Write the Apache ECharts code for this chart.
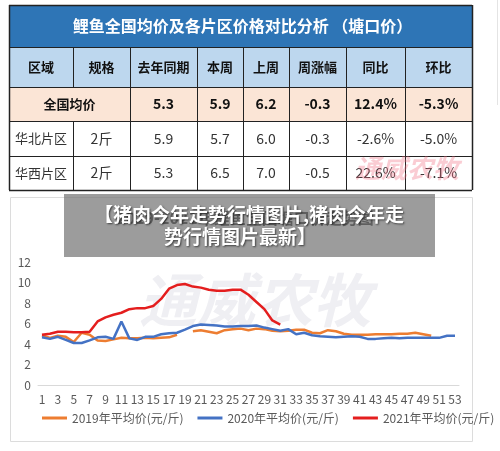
<!DOCTYPE html>
<html><head><meta charset="utf-8">
<script src="https://cdn.jsdelivr.net/npm/echarts@6/dist/echarts.min.js"></script>
<style>html,body{margin:0;padding:0;background:#fff}#c{width:500px;height:451px}</style>
</head><body><div id="c"></div>
<script>
// ---- table data ----
const tableTitle = '鲤鱼全国均价及各片区价格对比分析 （塘口价）';
const headers = ['区域','规格','去年同期','本周','上周','周涨幅','同比','环比'];
const regionNames = ['全国均价','华北片区','华西片区'];
const specs = ['', '2斤', '2斤'];
const lastYear = [5.3, 5.9, 5.3];
const thisWeek = [5.9, 5.7, 6.5];
const lastWeek = [6.2, 6.0, 7.0];
const weekChange = [-0.3, -0.3, -0.5];
const yoy = [12.4, -2.6, 22.6];
const mom = [-5.3, -5.0, -7.1];

// ---- chart data ----
const weeks = Array.from({length:53}, (_, i) => String(i + 1));
const legendNames = ['2019年平均价(元/斤)', '2020年平均价(元/斤)', '2021年平均价(元/斤)'];
const yTicks = [0, 2, 4, 6, 8, 10, 12];
const price2019 = [4.85,4.6,4.8,4.7,4.2,5.1,4.9,4.35,4.3,4.45,4.6,4.55,4.55,4.6,4.55,4.6,4.65,4.9,null,5.25,
  5.35,5.2,5.05,5.35,5.45,5.5,5.35,5.5,5.45,5.3,5.25,5.3,5.4,5.4,5.1,5.05,5.35,5.25,5.0,4.9,
  4.9,4.9,4.95,4.95,4.95,5.0,5.0,5.1,4.95,4.8,null,null,null];
const price2020 = [4.65,4.5,4.7,4.4,4.1,4.1,4.35,4.65,4.7,4.5,6.2,4.55,4.4,4.7,4.7,4.95,5.05,5.1,5.4,5.75,
  5.9,5.85,5.8,5.7,5.7,5.75,5.75,5.8,5.6,5.45,5.3,5.45,4.95,5.1,4.85,4.75,4.7,4.65,4.7,4.75,
  4.7,4.5,4.5,4.55,4.6,4.55,4.6,4.6,4.6,4.6,4.6,4.8,4.8];
const price2021 = [4.9,5.0,5.2,5.2,5.15,5.15,5.2,6.2,6.6,6.85,7.05,7.4,7.5,7.5,7.7,8.4,9.4,9.75,9.85,9.6,
  9.5,9.3,9.2,9.2,9.3,9.3,8.8,8.1,7.4,6.3,5.9];

const overlayLines = ['【猪肉今年走势行情图片,猪肉今年走', '势行情图片最新】'];
const chartTitle = '2019-2021年鲤鱼全国塘口价走势图';

// ---- layout ----
const FONT = '"Noto Sans CJK SC","Noto Sans",sans-serif';
const colX = [9, 73, 130, 197, 243, 289, 346, 405, 472];
const rowY = [5, 47, 87, 121, 156, 190];
const g = [];

// table fills
g.push({type:'rect', z:1, shape:{x:colX[0], y:rowY[0], width:colX[8]-colX[0], height:rowY[1]-rowY[0]}, style:{fill:'#2E75B6'}});
g.push({type:'rect', z:1, shape:{x:colX[0], y:rowY[1], width:colX[8]-colX[0], height:rowY[2]-rowY[1]}, style:{fill:'#BDD7EE'}});
g.push({type:'rect', z:1, shape:{x:colX[0], y:rowY[2], width:colX[8]-colX[0], height:rowY[3]-rowY[2]}, style:{fill:'#FBE5D6'}});
// borders
const bc = '#222';
for (let r = 0; r < rowY.length; r++) {
  g.push({type:'line', z:3, shape:{x1:colX[0], y1:rowY[r]+0.5, x2:colX[8], y2:rowY[r]+0.5}, style:{stroke:bc, lineWidth:(r===0||r===rowY.length-1)?1.5:1}});
}
for (let c = 0; c < colX.length; c++) {
  const outer = (c===0||c===colX.length-1);
  if (outer) {
    g.push({type:'line', z:3, shape:{x1:colX[c]+0.5, y1:rowY[0], x2:colX[c]+0.5, y2:rowY[5]}, style:{stroke:bc, lineWidth:1.5}});
  } else {
    const y1 = (c === 1) ? rowY[3] : rowY[1];
    g.push({type:'line', z:3, shape:{x1:colX[c]+0.5, y1:(c===1?rowY[1]:y1), x2:colX[c]+0.5, y2:rowY[2]}, style:{stroke:bc, lineWidth:1}});
    g.push({type:'line', z:3, shape:{x1:colX[c]+0.5, y1:(c===1?rowY[3]:rowY[2]), x2:colX[c]+0.5, y2:rowY[5]}, style:{stroke:bc, lineWidth:1}});
  }
}
function txt(x, y, s, opt) {
  g.push({type:'text', z:4, x:x, y:y, style:Object.assign({text:s, font:'14px ' + FONT, fill:'#111', textAlign:'center', textVerticalAlign:'middle'}, opt||{})});
}
txt((colX[0]+colX[8])/2 + 2, (rowY[0]+rowY[1])/2, tableTitle, {font:'bold 16px ' + FONT, fill:'#fff'});
headers.forEach((h, i) => txt((colX[i]+colX[i+1])/2, (rowY[1]+rowY[2])/2, h, {font:'bold 13px ' + FONT}));
const fmt1 = v => v.toFixed(1);
const fmtP = v => v.toFixed(1) + '%';
regionNames.forEach((name, r) => {
  const cy = (rowY[r+2] + rowY[r+3]) / 2;
  const bold = r === 0;
  const f = (bold ? 'bold ' : '') + '14px ' + FONT;
  if (r === 0) txt((colX[0]+colX[2])/2, cy, name, {font:'bold 13px ' + FONT});
  else { txt((colX[0]+colX[1])/2, cy, name, {font:'13px ' + FONT, fill:'#333'}); txt((colX[1]+colX[2])/2, cy, specs[r], {font:'14px ' + FONT, fill:'#333'}); }
  const vals = [fmt1(lastYear[r]), fmt1(thisWeek[r]), fmt1(lastWeek[r]), fmt1(weekChange[r]), fmtP(yoy[r]), fmtP(mom[r])];
  vals.forEach((v, k) => txt((colX[k+2]+colX[k+3])/2, cy, v, {font:f, fill: bold ? '#111' : '#333'}));
});
// pink watermark in table
g.push({type:'text', z:5, x:407, y:168, style:{text:'通威农牧', font:'bold italic 26px ' + FONT, fill:'rgba(240,110,130,0.35)', textAlign:'center', textVerticalAlign:'middle'}});
// right faint line
g.push({type:'line', z:1, shape:{x1:497.5, y1:0, x2:497.5, y2:105}, style:{stroke:'#e4e4e4', lineWidth:1}});

// chart box
g.push({type:'rect', z:0, shape:{x:10.5, y:197.5, width:462, height:244}, style:{fill:'#fff', stroke:'#dcdcdc', lineWidth:1}});
// big watermark
g.push({type:'text', z:1, x:255, y:300, style:{text:'通威农牧', font:'bold italic 58px ' + FONT, fill:'#efeff3', textAlign:'center', textVerticalAlign:'middle'}});
// chart title (under overlay)
g.push({type:'text', z:1, x:245, y:218, style:{text:chartTitle, font:'bold 16px ' + FONT, fill:'#222', textAlign:'center', textVerticalAlign:'middle'}});
// overlay
g.push({type:'rect', z:100, shape:{x:64, y:194, width:371, height:63}, style:{fill:'rgba(118,118,118,0.72)'}});
g.push({type:'text', z:101, x:249, y:215, style:{text:overlayLines[0], font:'bold 19px ' + FONT, fill:'#fff', textAlign:'center', textVerticalAlign:'middle', textShadowColor:'rgba(0,0,0,0.6)', textShadowBlur:2, textShadowOffsetX:1, textShadowOffsetY:1}});
g.push({type:'text', z:101, x:240, y:237, style:{text:overlayLines[1], font:'bold 19px ' + FONT, fill:'#fff', textAlign:'center', textVerticalAlign:'middle', textShadowColor:'rgba(0,0,0,0.6)', textShadowBlur:2, textShadowOffsetX:1, textShadowOffsetY:1}});

const chart = echarts.init(document.getElementById('c'), null, {renderer:'canvas'});
const colors = ['#ED7D31', '#4472C4', '#E41E1E'];
const datasets = [price2019, price2020, price2021];
chart.setOption({
  backgroundColor:'#fff',
  animation:false,
  color: colors,
  textStyle:{fontFamily:FONT},
  graphic: g,
  grid:{left:38, right:41, top:262, bottom:66},
  legend:{
    data: legendNames, left:37, top:407, itemGap:14, itemWidth:25, itemHeight:3, icon:'rect',
    textStyle:{fontSize:12, color:'#595959', fontFamily:FONT}
  },
  xAxis:{
    type:'category', data:weeks, boundaryGap:true,
    axisLine:{lineStyle:{color:'#d9d9d9'}}, axisTick:{show:false},
    axisLabel:{interval:1, color:'#595959', fontSize:12, margin:8, fontFamily:FONT}
  },
  yAxis:{
    type:'value', min:yTicks[0], max:yTicks[yTicks.length-1], interval:2,
    axisLine:{show:false}, axisTick:{show:false}, splitLine:{show:false},
    axisLabel:{color:'#595959', fontSize:12, margin:7, fontFamily:FONT}
  },
  series: legendNames.map((n, i) => ({
    name:n, type:'line', data:datasets[i], showSymbol:false, symbol:'none', connectNulls:false,
    lineStyle:{width:2.5, color:colors[i]}, z:3
  }))
});
</script></body></html>
